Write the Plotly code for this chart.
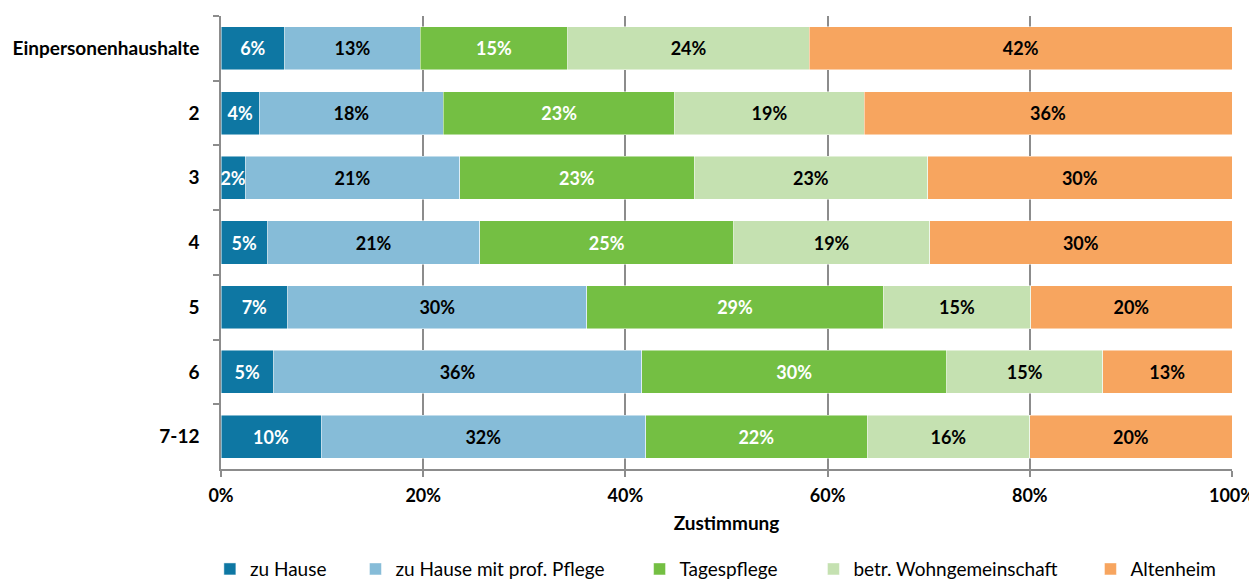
import plotly.graph_objects as go

categories = ["Einpersonenhaushalte", "2", "3", "4", "5", "6", "7-12"]
series_names = ["zu Hause", "zu Hause mit prof. Pflege", "Tagespflege",
                "betr. Wohngemeinschaft", "Altenheim"]
zu_hause = [6.3, 3.8, 2.4, 4.6, 6.6, 5.2, 9.9]
prof_pflege = [13.4, 18.2, 21.2, 21.0, 29.6, 36.4, 32.1]
tagespflege = [14.6, 22.9, 23.2, 25.1, 29.3, 30.2, 21.9]
wohngemeinschaft = [23.9, 18.7, 23.1, 19.4, 14.6, 15.4, 16.1]
altenheim = [41.8, 36.4, 30.1, 29.9, 19.9, 12.8, 20.0]
x_ticks = [0, 20, 40, 60, 80, 100]
x_tick_labels = ["0%", "20%", "40%", "60%", "80%", "100%"]

colors = ["#0e77a3", "#86bcd8", "#74bf43", "#c5e1b1", "#f7a55f"]
text_colors = ["white", "black", "white", "black", "black"]
all_values = [zu_hause, prof_pflege, tagespflege, wohngemeinschaft, altenheim]
legend_ids = ["legend", "legend2", "legend3", "legend4", "legend5"]
legend_x = [-0.011, 0.133, 0.414, 0.586, 0.860]

FONT = "Lato"
# page body has an 8px default margin, so the figure is offset by 8px
L, R, T, B = 213, 25, 8, 110
W, H = 1249, 571

fig = go.Figure()
for name, vals, col, tcol, lid in zip(series_names, all_values, colors, text_colors, legend_ids):
    fig.add_trace(go.Bar(
        y=categories, x=vals, name=name, orientation="h", legend=lid,
        marker=dict(color=col, line=dict(color="rgba(255,255,255,0.6)", width=0.8)),
        texttemplate="%{x:.0f}%", textposition="inside", insidetextanchor="middle",
        textangle=0, constraintext="none",
        textfont=dict(family=FONT, size=18, color=tcol, weight="bold"),
        hoverinfo="skip",
    ))

legend_style = dict(orientation="h", xanchor="left", y=-0.179, yanchor="top",
                    font=dict(family=FONT, size=19, color="black"),
                    itemwidth=30, bgcolor="rgba(0,0,0,0)")
layout_legends = {}
for lid, lx in zip(legend_ids, legend_x):
    layout_legends[lid] = dict(legend_style, x=lx)

fig.update_layout(
    barmode="stack", bargap=0.335,
    width=W, height=H,
    margin=dict(l=L, r=R, t=T, b=B, autoexpand=False),
    plot_bgcolor="white", paper_bgcolor="white",
    font=dict(family=FONT, color="black"),
    showlegend=True,
    **layout_legends,
)
fig.update_xaxes(
    range=[0, 100], tickvals=x_ticks, ticktext=x_tick_labels,
    showgrid=True, gridcolor="#8c8c8c", gridwidth=1.5,
    showline=True, linecolor="#8c8c8c", linewidth=1.5,
    ticks="outside", ticklen=6, tickcolor="#8c8c8c", tickwidth=1.5,
    ticklabelstandoff=4,
    tickfont=dict(family=FONT, size=18, color="black", weight="bold"),
    title=dict(text="Zustimmung", font=dict(family=FONT, size=19, color="black", weight="bold"),
               standoff=11),
    zeroline=False, fixedrange=True, automargin=False,
)
fig.update_yaxes(
    categoryorder="array", categoryarray=categories, autorange="reversed",
    showline=True, linecolor="#8c8c8c", linewidth=1.5,
    ticks="outside", ticklen=6, tickcolor="#8c8c8c", tickwidth=1.5,
    tickson="boundaries", ticklabelstandoff=16,
    tickfont=dict(family=FONT, size=19, color="black", weight="bold"),
    showgrid=False, fixedrange=True, automargin=False,
)

fig.write_html("out.html")
